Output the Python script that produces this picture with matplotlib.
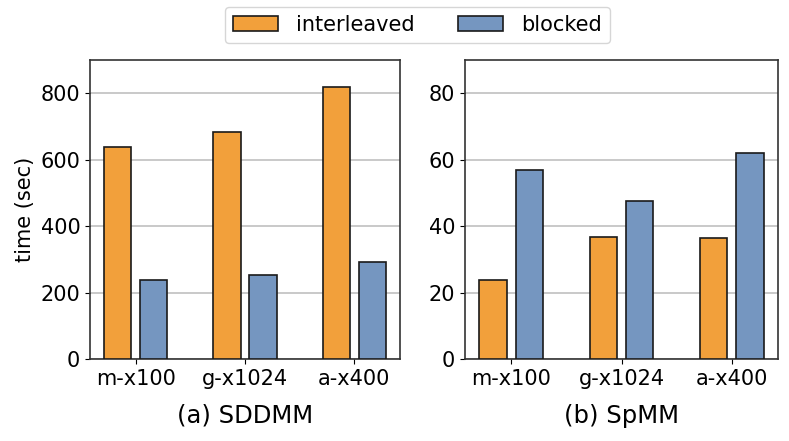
import matplotlib
matplotlib.use("Agg")
import matplotlib.pyplot as plt
import numpy as np

categories = ["m-x100", "g-x1024", "a-x400"]
sddmm_interleaved = [638, 682, 819]
sddmm_blocked = [239, 252, 291]
spmm_interleaved = [23.9, 36.8, 36.5]
spmm_blocked = [56.8, 47.7, 62.0]
series_names = ["interleaved", "blocked"]
panel_titles = ["(a) SDDMM", "(b) SpMM"]

c_orange = "#f2a03b"
c_blue = "#7596c0"

W, H = 789, 441
fig = plt.figure(figsize=(W / 100, H / 100), dpi=100)
ax1 = fig.add_axes([90 / W, (H - 359) / H, (400 - 90) / W, (359 - 60) / H])
ax2 = fig.add_axes([465 / W, (H - 359) / H, (778 - 465) / W, (359 - 60) / H])

x = np.arange(len(categories))
bw = 0.25
off = 0.165

for ax, a, b, ylim, ticks, title in [
    (ax1, sddmm_interleaved, sddmm_blocked, 900, [0, 200, 400, 600, 800], panel_titles[0]),
    (ax2, spmm_interleaved, spmm_blocked, 90, [0, 20, 40, 60, 80], panel_titles[1]),
]:
    ax.bar(x - off, a, bw, color=c_orange, edgecolor="#1a1a1a", linewidth=1.2,
           label=series_names[0], zorder=3)
    ax.bar(x + off, b, bw, color=c_blue, edgecolor="#1a1a1a", linewidth=1.2,
           label=series_names[1], zorder=3)
    ax.set_ylim(0, ylim)
    ax.set_yticks(ticks)
    ax.set_xticks(x)
    ax.set_xticklabels(categories)
    ax.tick_params(labelsize=15)
    ax.yaxis.grid(True, color="#c0c0c0", linewidth=1.2, zorder=0)
    ax.set_axisbelow(True)
    for s in ax.spines.values():
        s.set_color("#333333")
        s.set_linewidth(1.2)
    ax.set_xlabel(title, fontsize=17.5, labelpad=11)

ax1.set_ylabel("time (sec)", fontsize=15)

handles, labels = ax1.get_legend_handles_labels()
fig.legend(handles, labels, loc="upper center", bbox_to_anchor=(0.529, 0.985),
           ncol=2, fontsize=15, frameon=True, columnspacing=2.07,
           handlelength=2.16, handletextpad=0.87, borderaxespad=0.0)

fig.savefig("out.png", dpi=100)
